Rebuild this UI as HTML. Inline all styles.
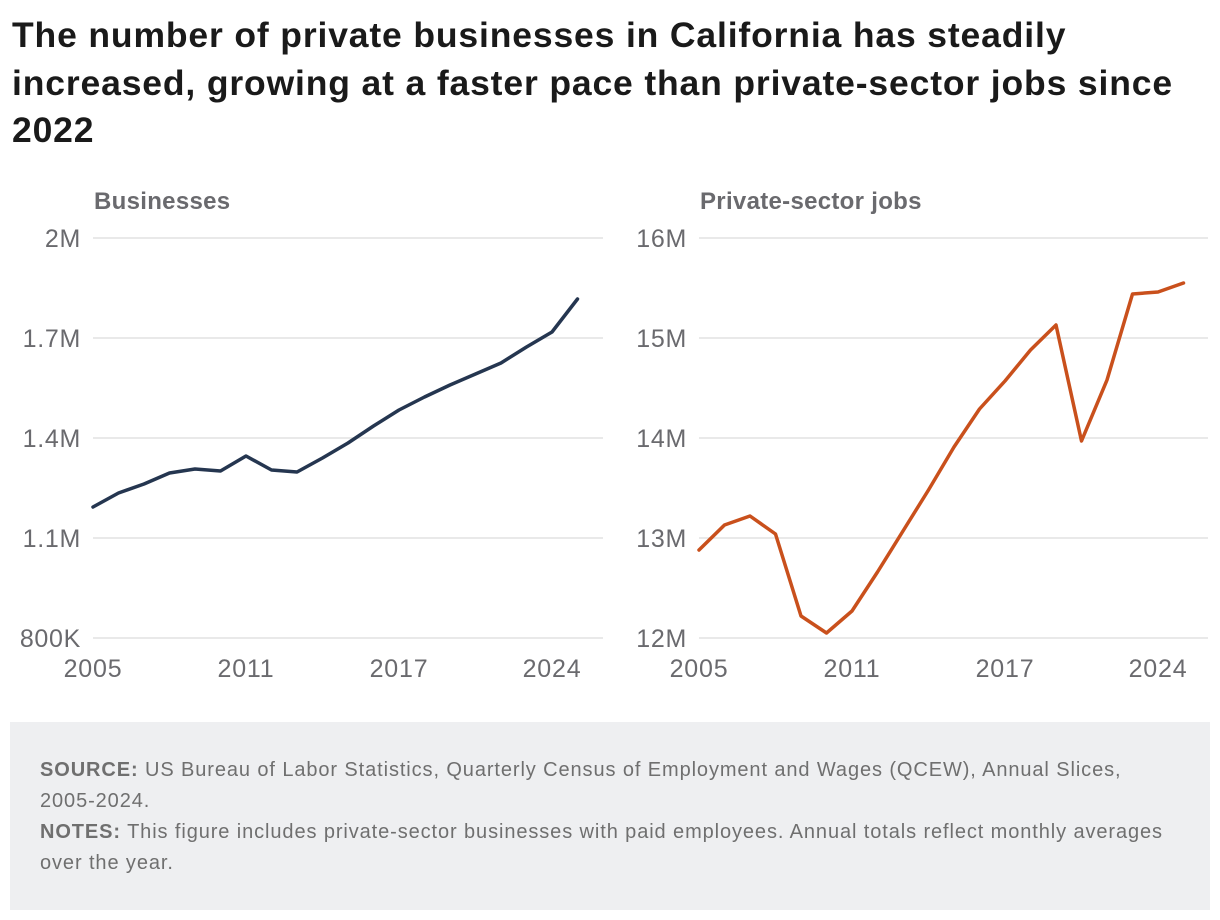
<!DOCTYPE html>
<html><head><meta charset="utf-8"><style>
body{margin:0;background:#fff;width:1220px;height:920px;overflow:hidden;font-family:"Liberation Sans",sans-serif}
h1{position:absolute;left:12px;top:12px;margin:0;font-size:35.5px;letter-spacing:0.85px;line-height:47.5px;font-weight:bold;color:#1a1a1a;width:1210px;white-space:nowrap}
#foot{position:absolute;left:10px;top:722px;width:1200px;height:188px;background:#eeeff1}
#foot p{margin:0;position:absolute;left:30px;width:1160px;font-size:20px;letter-spacing:0.9px;line-height:31px;color:#6f6f6f;white-space:nowrap}
svg{position:absolute;left:0;top:0}
</style></head><body>
<h1>The number of private businesses in California has steadily<br>increased, growing at a faster pace than private-sector jobs since<br>2022</h1>
<svg id="c" width="1220" height="720"></svg>
<div id="foot">
<p style="top:33px"><b>SOURCE:</b> US Bureau of Labor Statistics, Quarterly Census of Employment and Wages (QCEW), Annual Slices,<br>2005-2024.</p>
<p style="top:95px"><b>NOTES:</b> This figure includes private-sector businesses with paid employees. Annual totals reflect monthly averages<br>over the year.</p>
</div>
<script>
const years=[2005,2006,2007,2008,2009,2010,2011,2012,2013,2014,2015,2016,2017,2018,2019,2020,2021,2022,2023,2024];
const businesses=[1.193,1.235,1.262,1.295,1.307,1.301,1.346,1.304,1.298,1.340,1.385,1.436,1.484,1.523,1.559,1.592,1.625,1.673,1.718,1.817];
const jobs=[12.88,13.13,13.22,13.04,12.22,12.05,12.27,12.66,13.07,13.48,13.91,14.29,14.57,14.88,15.13,13.97,14.58,15.44,15.46,15.55];
const bizTicks=[0.8,1.1,1.4,1.7,2.0];
const bizLabels=["800K","1.1M","1.4M","1.7M","2M"];
const jobTicks=[12,13,14,15,16];
const jobLabels=["12M","13M","14M","15M","16M"];
const xTicks=[2005,2011,2017,2023];
const xLabels=["2005","2011","2017","2024"];
const svg=document.getElementById('c');const NS='http://www.w3.org/2000/svg';
function mk(t,a,p){const e=document.createElementNS(NS,t);for(const k in a)e.setAttribute(k,a[k]);(p||svg).appendChild(e);return e;}
function panel(name,title,x0,x1,ymin,ymax,ticks,labels,vals,color){
  const g=mk('g',{});
  
  
  const X=y=>x0+(y-2005)*25.5;
  const Y=v=>638-(v-ymin)/(ymax-ymin)*400;
  const t=mk('text',{x:x0+1,y:209,'font-size':24,'letter-spacing':0.3,'font-weight':'bold',fill:'#6a6a6e'},g);t.textContent=title;
  
  
  ticks.forEach((v,i)=>{
    const l=mk('line',{x1:x0,x2:x1,y1:Y(v),y2:Y(v),stroke:'#e2e2e2','stroke-width':1.5},g);
    
    
    const tx=mk('text',{x:x0-12,y:Y(v)+9,'text-anchor':'end','font-size':25,'letter-spacing':0.7,fill:'#6a6a6e'},g);tx.textContent=labels[i];
    
    
  });
  xTicks.forEach((yr,i)=>{
    const tx=mk('text',{x:X(yr),y:677,'text-anchor':'middle','font-size':25,'letter-spacing':0.8,fill:'#6a6a6e'},g);tx.textContent=xLabels[i];
    
    
  });
  const p=mk('polyline',{points:years.map((y,i)=>X(y)+','+Y(vals[i])).join(' '),fill:'none',stroke:color,'stroke-width':3.5,'stroke-linejoin':'round','stroke-linecap':'round'},g);
  
  
}
panel('businesses-chart','Businesses',93,603,0.8,2.0,bizTicks,bizLabels,businesses,'#253650');
panel('jobs-chart','Private-sector jobs',699,1208,12,16,jobTicks,jobLabels,jobs,'#c9501c');
</script>
</body></html>
